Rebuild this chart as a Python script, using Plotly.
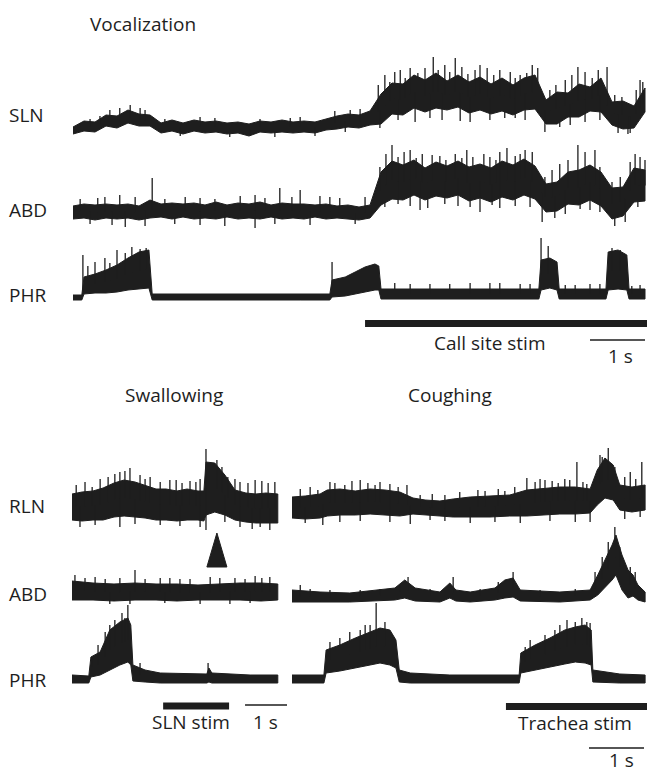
import numpy as np
import plotly.graph_objects as go

# ================= DATA =================
# amplitudes in arbitrary units, 0 = quiet level of each trace; time in s
# ---- Vocalization panel ----
voc_t = [0.0, 0.2, 0.4, 0.6, 0.8, 1.0, 1.2, 1.4, 1.6, 1.8, 2.0, 2.2, 2.4, 2.6, 2.8, 3.0, 3.2, 3.4,
         3.6, 3.8, 4.0, 4.2, 4.4, 4.6, 4.8, 5.0, 5.2, 5.4, 5.6, 5.8, 6.0, 6.2, 6.4, 6.6, 6.8, 7.0,
         7.2, 7.4, 7.6, 7.8, 8.0, 8.2, 8.4, 8.6, 8.8, 9.0, 9.2, 9.4, 9.6, 9.8, 10.0, 10.2, 10.4]
voc_sln_hi = [3, 9, 8, 15, 14, 20, 16, 15, 7, 10, 7, 10, 8, 9, 7, 8, 6, 9, 8, 10, 8, 9, 8, 11,
              14, 16, 15, 19, 36, 47, 46, 55, 50, 57, 49, 55, 48, 53, 46, 52, 45, 52, 55, 30, 38,
              37, 46, 43, 52, 28, 29, 24, 42]
voc_sln_lo = [-4, -1, -2, 4, 2, 7, 4, 4, -3, -1, -4, -1, -3, -2, -4, -3, -6, -2, -3, -2, -3, -2, -3,
              0, 1, 3, 2, 5, 6, 16, 15, 22, 18, 22, 20, 23, 17, 20, 16, 19, 15, 20, 21, 6, 6, 13, 13,
              19, 18, 5, 1, 2, 18]
voc_abd_hi = [6, 8, 7, 8, 7, 8, 6, 12, 8, 9, 8, 9, 7, 10, 7, 9, 8, 10, 7, 9, 8, 8, 7, 8, 6, 7, 5, 7,
              40, 51, 47, 52, 44, 50, 46, 51, 45, 48, 44, 51, 47, 53, 46, 28, 30, 40, 42, 47, 40, 24,
              25, 44, 42]
voc_abd_lo = [-7, -6, -8, -6, -7, -6, -8, -6, -5, -7, -5, -7, -6, -7, -5, -7, -6, -7, -5, -7, -6, -7,
              -5, -7, -6, -7, -8, -6, 7, 13, 12, 17, 12, 16, 14, 17, 11, 14, 10, 15, 12, 17, 13, 0, 1,
              8, 7, 12, 6, -7, -4, 10, 11]
voc_phr_t = [0.0, 0.16, 0.2, 0.4, 0.6, 0.8, 1.0, 1.2, 1.38, 1.44, 2.31, 3.22, 4.13, 4.67, 4.71, 4.95,
             5.13, 5.31, 5.49, 5.56, 5.6, 6.49, 7.4, 8.47, 8.51, 8.67, 8.8, 8.84, 9.27, 9.69, 9.73,
             9.91, 10.07, 10.11, 10.4]
voc_phr_hi = [3, 3, 21, 24, 28, 33, 40, 46, 48, 4, 4, 4, 4, 4, 18, 21, 26, 31, 34, 32, 9, 9, 9, 9, 38,
              40, 36, 9, 9, 9, 46, 48, 43, 9, 9]
voc_phr_lo = [-2, -2, 4, 5, 5, 6, 8, 9, 10, -2, -2, -2, -2, -2, 1, 2, 4, 6, 8, 8, -1, -1, -1, -1, 8,
              10, 8, -1, -1, -1, 8, 9, 8, -1, -1]
# spikes: time and tip amplitude
voc_sln_spk_t = [0.13, 0.31, 0.49, 0.67, 0.85, 1.04, 1.22, 1.31, 1.67, 1.95, 2.31, 2.58, 2.85, 3.22,
                 3.4, 3.67, 3.95, 4.13, 4.4, 4.76, 4.95, 5.04, 5.22,
                 5.55, 5.67, 5.76, 5.85, 5.95, 6.04, 6.13, 6.27, 6.4, 6.55, 6.64, 6.76, 6.85, 6.95,
                 7.07, 7.18, 7.31, 7.4, 7.53, 7.65, 7.76, 7.95, 8.04, 8.13, 8.25, 8.35, 8.45, 8.67,
                 8.78, 8.95, 9.07, 9.18, 9.31, 9.44, 9.55, 9.71, 9.85, 9.98, 10.24, 10.31, 10.36,
                 5.58, 5.91, 6.22, 6.49, 6.71, 7.04, 7.22, 7.58, 7.85, 8.04, 8.22, 8.58, 8.85, 9.04,
                 9.31, 9.58, 9.91, 10.09, 10.13]
voc_sln_spk_a = [6, 11, 14, 20, 22, 25, 22, 20, 11, -6, 13, 12, -7, -6, 11, -7, 12, 13, -6, 19, -2,
                 20, 21,
                 45, 55, 48, 58, 60, 52, 62, 57, 62, 73, 60, 65, 58, 72, 63, 56, 60, 65, 62, 55, 60,
                 58, 52, 55, 57, 65, 62, 40, 45, 50, 55, 63, 58, 52, 60, 63, 35, 33, 40, 50, 48,
                 2, 10, 8, 12, 10, 9, 8, 10, 12, 12, 10, -2, 3, 5, 8, 10, -3, -4, -3]
voc_abd_spk_t = [0.13, 0.31, 0.45, 0.58, 0.71, 0.85, 0.95, 1.13, 1.31, 1.44, 1.67, 1.85, 2.04, 2.31,
                 2.31, 2.58, 2.76, 3.04, 3.31, 3.31, 3.49, 3.67, 3.76, 3.98, 4.13, 4.31, 4.49, 4.67,
                 4.85, 5.13, 5.31,
                 5.58, 5.69, 5.8, 5.91, 6.02, 6.13, 6.24, 6.35, 6.53, 6.67, 6.78, 6.95, 7.07, 7.16,
                 7.27, 7.47, 7.58, 7.69, 7.76, 7.89, 8.04, 8.13, 8.22, 8.35, 8.58, 8.71, 8.85, 9.0,
                 9.18, 9.31, 9.49, 9.58, 9.8, 9.95, 10.13, 10.22, 10.31, 10.4,
                 5.67, 5.91, 6.13, 6.31, 6.45, 6.76, 7.0, 7.22, 7.4, 7.62, 7.76, 8.04, 8.31, 8.53,
                 8.76, 8.95, 9.22, 9.4, 9.58, 9.85, 10.04, 10.27]
voc_abd_spk_a = [13, -12, 14, 15, -13, 17, -15, 15, -14, 34, 13, -12, 15, 14, -13, 13, -14, 16, 17,
                 -16, 14, -12, 24, 15, 22, -13, 16, 15, 14, -12, 15,
                 45, 58, 67, 55, 60, 62, 54, 58, 57, 56, 52, 58, 54, 62, 55, 58, 55, 52, 60, 64, 56,
                 58, 62, 60, 35, 42, 48, 52, 67, 60, 62, 45, 30, 35, 50, 58, 55, 52,
                 5, 8, 6, 2, 4, 8, 6, 5, 0, 7, 4, 6, 5, -10, -6, -2, 3, 2, 0, -14, -10, 5]
voc_phr_spk_t = [0.18, 0.27, 0.4, 0.58, 0.67, 0.8, 0.95, 1.07, 1.22, 1.33, 4.71, 8.51, 8.64, 9.8,
                 9.95, 5.85, 6.13, 6.49, 6.85, 7.22, 7.58, 7.76, 8.13, 8.31, 8.95, 9.13, 9.4, 9.58,
                 10.16, 10.31]
voc_phr_spk_a = [43, 32, 36, 40, 35, 48, 45, 51, 49, 50, 36, 60, 52, 50, 48, 15, 14, 14, 14, 15, 15,
                 15, 14, 14, 13, 13, 14, 14, 12, 13]
call_stim = [5.31, 10.44]          # s
voc_scale = [9.4, 10.4]            # 1 s

# ---- Swallowing panel ----
sw_rln_t = [0.0, 0.24, 0.5, 0.74, 1.0, 1.24, 1.5, 1.74, 2.0, 2.24, 2.5, 2.74, 3.0, 3.14, 3.19, 3.4,
            3.64, 3.88, 4.14, 4.38, 4.62, 4.9]
sw_rln_hi = [13, 15, 16, 19, 24, 27, 25, 22, 18, 18, 16, 18, 16, 16, 45, 44, 32, 17, 14, 13, 14, 13]
sw_rln_lo = [-13, -14, -13, -13, -10, -9, -10, -11, -13, -13, -14, -13, -13, -14, -8, -5, -8, -13,
             -15, -16, -16, -16]
sw_abd_t = [0.0, 0.5, 1.0, 1.5, 2.0, 2.5, 3.0, 3.5, 4.0, 4.5, 4.9]
sw_abd_hi = [11, 9, 8, 9, 8, 8, 7, 8, 9, 9, 8]
sw_abd_lo = [-8, -8, -9, -8, -8, -9, -8, -8, -8, -9, -8]
sw_phr_t = [0.0, 0.4, 0.45, 0.67, 0.9, 1.14, 1.33, 1.4, 1.45, 1.74, 2.1, 3.05, 3.21, 3.26, 3.33, 4.24,
            4.9]
sw_phr_hi = [5, 4, 23, 28, 50, 58, 62, 55, 15, 10, 7, 6, 6, 12, 7, 5, 5]
sw_phr_lo = [-3, -3, 3, 5, 10, 15, 18, 15, -1, -2, -3, -3, -3, -2, -3, -3, -3]
sw_rln_spk_t = [3.19, 3.19, 3.45, 1.38, 1.14, 0.67, 1.86, 2.33, 2.81, 4.0, 4.36, 4.83,
                0.1, 0.31, 0.48, 0.86, 1.02, 1.26, 1.62, 1.74, 2.1, 2.48, 2.62, 2.95, 3.05, 3.57,
                3.71, 3.88, 4.19, 4.52, 4.67,
                1.14, 2.1, 4.71, 4.0, 0.19, 0.55, 1.5, 2.57, 3.05, 3.64, 4.29, 4.48]
sw_rln_spk_a = [58, -23, 47, 39, 35, 28, 30, 27, 26, 25, 27, 25,
                22, 25, 20, 30, 33, 36, 32, 28, 25, 27, 24, 25, 28, 40, 30, 28, 24, 26, 24,
                -20, -18, -23, -20, -20, -18, -17, -19, -20, -15, -22, -20]
sw_abd_spk_t = [0.07, 0.31, 0.55, 0.79, 1.14, 1.5, 1.74, 2.1, 2.33, 2.57, 2.81, 3.29, 3.52, 3.88,
                4.12, 4.36, 4.52, 4.71, 0.9, 1.38, 2.21, 3.05, 3.76, 4.24]
sw_abd_spk_a = [17, 14, 15, 13, 14, 22, 13, 14, 14, 13, 13, 15, 14, 14, 13, 16, 14, 15, -12, -12,
                -11, -12, -12, -11]
sw_phr_spk_t = [0.48, 0.62, 0.79, 0.9, 1.02, 1.19, 1.26, 1.33, 1.62, 3.24]
sw_phr_spk_a = [23, 35, 48, 55, 60, 67, 62, 75, 17, 17]
sln_stim = [2.17, 3.74]
sw_scale = [4.12, 5.12]
swallow_mark_t = 3.45              # arrowhead

# ---- Coughing panel ----
co_rln_t = [0.0, 0.24, 0.51, 0.64, 0.87, 1.15, 1.42, 1.69, 1.96, 2.2, 2.42, 2.69, 2.93, 3.24, 3.6,
            3.96, 4.27, 4.6, 4.87, 5.15, 5.42, 5.55, 5.69, 5.84, 5.96, 6.18, 6.42]
co_rln_hi = [10, 11, 13, 17, 18, 16, 18, 17, 15, 9, 7, 6, 8, 10, 11, 12, 17, 19, 20, 20, 18, 37, 49,
             42, 22, 20, 22]
co_rln_lo = [-11, -12, -11, -9, -8, -8, -7, -8, -9, -7, -8, -9, -10, -10, -10, -9, -9, -8, -7, -7, -6,
             2, 9, 7, -3, -5, -3]
co_abd_t = [0.0, 0.51, 1.05, 1.87, 2.05, 2.24, 2.69, 2.87, 2.98, 3.24, 3.69, 3.87, 4.02, 4.15, 4.87,
            5.42, 5.56, 5.69, 5.82, 5.89, 6.0, 6.11, 6.2, 6.29, 6.42]
co_abd_hi = [7, 5, 4, 9, 17, 9, 5, 14, 7, 5, 9, 17, 19, 7, 5, 7, 22, 37, 52, 62, 42, 27, 22, 12, 5]
co_abd_lo = [-5, -5, -5, -3, -1, -4, -5, -1, -4, -5, -3, -1, 0, -4, -5, -3, 2, 9, 17, 22, 7, -1, 1, -3,
             -5]
co_phr_t = [0.0, 0.58, 0.62, 0.87, 1.15, 1.42, 1.6, 1.78, 1.89, 1.95, 2.15, 2.87, 3.78, 4.13, 4.16,
            4.42, 4.69, 4.96, 5.15, 5.33, 5.44, 5.47, 5.96, 6.42]
co_phr_hi = [5, 5, 30, 35, 42, 48, 52, 50, 40, 10, 7, 5, 5, 5, 27, 35, 42, 50, 53, 55, 50, 10, 6, 5]
co_phr_lo = [-3, -3, 7, 9, 12, 15, 17, 15, 12, -2, -3, -3, -3, -3, 7, 10, 13, 16, 18, 17, 15, -2, -3,
             -3]
co_rln_spk_t = [0.69, 1.24, 1.6, 2.09, 4.27, 4.6, 4.96, 5.18, 5.6, 5.75, 6.36,
                0.15, 0.33, 0.47, 0.78, 0.96, 1.09, 1.38, 1.51, 1.78, 1.93, 2.33, 2.55, 2.78, 3.05,
                3.38, 3.51, 3.75, 3.87, 4.05, 4.42, 4.51, 4.73, 4.84, 5.05, 5.29, 5.36, 5.64, 5.87,
                6.05, 6.15, 6.25,
                0.56, 2.15, 3.24, 5.42, 0.24, 0.87, 1.24, 1.78, 2.51, 2.78, 3.69, 4.15, 4.69, 5.15,
                6.05, 6.33]
co_rln_spk_a = [25, 27, 25, 22, 29, 27, 28, 45, 52, 59, 45,
                18, 20, 17, 24, 22, 26, 24, 22, 23, 20, 12, 13, 12, 15, 17, 16, 18, 16, 20, 25, 28,
                26, 24, 27, 25, 23, 50, 40, 30, 35, 28,
                -18, -17, -16, -15, -16, -15, -14, -15, -13, -14, -15, -16, -14, -15, -12, -10]
co_abd_spk_t = [0.15, 0.33, 0.69, 1.24, 1.6, 1.96, 2.11, 2.51, 2.93, 3.42, 3.75, 4.02, 4.51, 5.15,
                5.51, 5.64, 5.75, 5.87, 5.96, 6.15, 6.24]
co_abd_spk_a = [12, 8, 7, 7, 8, 12, 20, 8, 20, 8, 15, 25, 7, 8, 25, 40, 55, 70, 50, 30, 25]
co_phr_spk_t = [0.69, 0.87, 1.05, 1.24, 1.33, 1.42, 1.53, 1.69, 4.24, 4.33, 4.6, 4.78, 4.87, 5.0,
                5.15, 5.27, 5.36, 5.42]
co_phr_spk_a = [38, 42, 48, 50, 55, 55, 77, 58, 33, 40, 45, 50, 55, 60, 58, 62, 58, 57]
trachea_stim = [3.89, 6.46]
co_scale = [5.4, 6.4]

# ================= LAYOUT =================
W, H = 647, 775
INK = "#1e1e1e"
FONT = "Open Sans"
FS = 19


def px(x):
    return x / W


def py(y):
    return 1 - y / H


fig = go.Figure()

# (t, hi, lo, spike t, spike amp, x axis, y axis index, quiet level in px)
rows = [
    (voc_t, voc_sln_hi, voc_sln_lo, voc_sln_spk_t, voc_sln_spk_a, "x", 1, 130),
    (voc_t, voc_abd_hi, voc_abd_lo, voc_abd_spk_t, voc_abd_spk_a, "x", 2, 212),
    (voc_phr_t, voc_phr_hi, voc_phr_lo, voc_phr_spk_t, voc_phr_spk_a, "x", 3, 298),
    (sw_rln_t, sw_rln_hi, sw_rln_lo, sw_rln_spk_t, sw_rln_spk_a, "x2", 4, 507),
    (sw_abd_t, sw_abd_hi, sw_abd_lo, sw_abd_spk_t, sw_abd_spk_a, "x2", 5, 592),
    (sw_phr_t, sw_phr_hi, sw_phr_lo, sw_phr_spk_t, sw_phr_spk_a, "x2", 6, 680),
    (co_rln_t, co_rln_hi, co_rln_lo, co_rln_spk_t, co_rln_spk_a, "x3", 7, 507),
    (co_abd_t, co_abd_hi, co_abd_lo, co_abd_spk_t, co_abd_spk_a, "x3", 8, 597),
    (co_phr_t, co_phr_hi, co_phr_lo, co_phr_spk_t, co_phr_spk_a, "x3", 9, 680),
]

A_LO, A_HI = -35, 85
layout_axes = {}
for t, hi, lo, st, sa, xa, yi, ref in rows:
    yname = "y" if yi == 1 else f"y{yi}"
    fig.add_trace(go.Scatter(
        x=list(t) + list(t)[::-1], y=list(hi) + list(lo)[::-1],
        xaxis=xa, yaxis=yname, mode="lines", fill="toself",
        fillcolor=INK, line=dict(color=INK, width=1.0), hoverinfo="skip", showlegend=False))
    mid = (np.interp(st, t, hi) + np.interp(st, t, lo)) / 2
    sx, sy = [], []
    for tt, aa, mm in zip(st, sa, mid):
        sx += [tt, tt, None]
        sy += [float(mm), aa, None]
    fig.add_trace(go.Scatter(x=sx, y=sy, xaxis=xa, yaxis=yname, mode="lines",
                             line=dict(color=INK, width=1.3), hoverinfo="skip", showlegend=False))
    key = "yaxis" if yi == 1 else f"yaxis{yi}"
    layout_axes[key] = dict(domain=[py(ref - A_LO), py(ref - A_HI)], range=[A_LO, A_HI],
                            anchor=xa, visible=False, fixedrange=True)

layout_axes["xaxis"] = dict(domain=[px(73), 1.0], range=[0, 574 / 55], anchor="y",
                            visible=False, fixedrange=True)
layout_axes["xaxis2"] = dict(domain=[px(72), px(290)], range=[0, 218 / 42], anchor="y4",
                             visible=False, fixedrange=True)
layout_axes["xaxis3"] = dict(domain=[px(292), 1.0], range=[0, 355 / 55], anchor="y7",
                             visible=False, fixedrange=True)

shapes = []
for xr, rng, yc in [("x", call_stim, 323.5), ("x2", sln_stim, 706), ("x3", trachea_stim, 706.5)]:
    shapes.append(dict(type="rect", xref=xr, yref="paper", x0=rng[0], x1=rng[1],
                       y0=py(yc + 3.5), y1=py(yc - 3.5), fillcolor=INK, line=dict(width=0)))
for xr, rng, yc in [("x", voc_scale, 340), ("x2", sw_scale, 705), ("x3", co_scale, 748)]:
    shapes.append(dict(type="line", xref=xr, yref="paper", x0=rng[0], x1=rng[1],
                       y0=py(yc), y1=py(yc), line=dict(color=INK, width=1.6)))
half = 10 / 42
shapes.append(dict(type="path", xref="x2", yref="paper",
                   path=f"M {swallow_mark_t - half},{py(567)} L {swallow_mark_t + half},{py(567)} "
                        f"L {swallow_mark_t},{py(533)} Z",
                   fillcolor=INK, line=dict(color=INK, width=1)))


def txt(s, x, y, anchor="center", yanchor="middle"):
    return dict(text=s, x=px(x), y=py(y), xref="paper", yref="paper", showarrow=False,
                xanchor=anchor, yanchor=yanchor, font=dict(family=FONT, size=FS, color=INK))


annotations = [
    txt("Vocalization", 88, 24, anchor="left"),
    txt("SLN", 7, 115, anchor="left"),
    txt("ABD", 7, 210, anchor="left"),
    txt("PHR", 7, 295, anchor="left"),
    txt("Call site stim", 490, 343),
    txt("1 s", 620, 356),
    txt("Swallowing", 174, 395),
    txt("Coughing", 450, 395),
    txt("RLN", 7, 506, anchor="left"),
    txt("ABD", 7, 594, anchor="left"),
    txt("PHR", 7, 680, anchor="left"),
    txt("SLN stim", 191, 722),
    txt("1 s", 265, 722),
    txt("Trachea stim", 575, 723),
    txt("1 s", 621, 775, yanchor="bottom"),
]

fig.update_layout(width=W, height=H, margin=dict(l=0, r=0, t=0, b=0),
                  paper_bgcolor="white", plot_bgcolor="rgba(0,0,0,0)",
                  shapes=shapes, annotations=annotations, showlegend=False, **layout_axes)

fig.write_html("out.html", config={"displayModeBar": False})
